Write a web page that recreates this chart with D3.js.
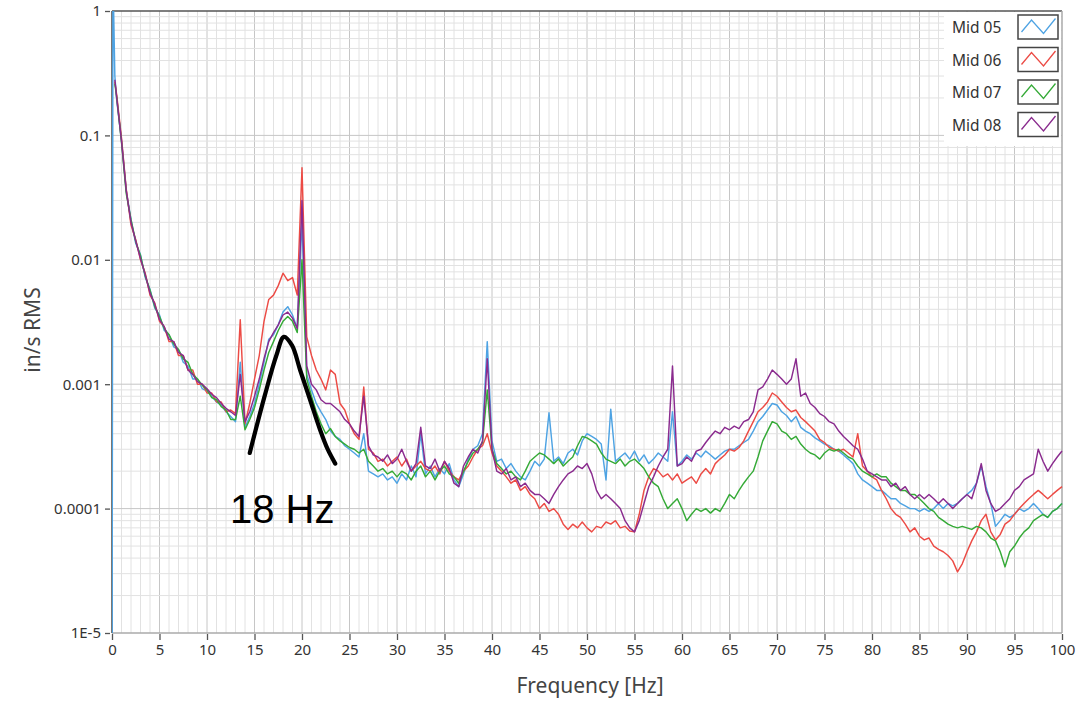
<!DOCTYPE html>
<html><head><meta charset="utf-8">
<script src="https://cdn.jsdelivr.net/npm/d3@7"></script>
<style>body{margin:0;background:#fff}</style>
</head><body>
<svg id="chart" width="1088" height="702"></svg>
<script>
// ---------------- DATA ----------------
const freq = [0,0.1,0.3,
0.5,1,1.5,2,2.5,3,3.5,4,4.5,5,
5.5,6,6.5,7,7.5,8,8.5,9,9.5,10,
10.5,11,11.5,12,12.5,13,13.5,14,14.5,15,
15.5,16,16.5,17,17.5,18,18.5,19,19.5,20,
20.5,21,21.5,22,22.5,23,23.5,24,24.5,25,
25.5,26,26.5,27,27.5,28,28.5,29,29.5,30,
30.5,31,31.5,32,32.5,33,33.5,34,34.5,35,
35.5,36,36.5,37,37.5,38,38.5,39,39.5,40,
40.5,41,41.5,42,42.5,43,43.5,44,44.5,45,
45.5,46,46.5,47,47.5,48,48.5,49,49.5,50,
50.5,51,51.5,52,52.5,53,53.5,54,54.5,55,
55.5,56,56.5,57,57.5,58,58.5,59,59.5,60,
60.5,61,61.5,62,62.5,63,63.5,64,64.5,65,
65.5,66,66.5,67,67.5,68,68.5,69,69.5,70,
70.5,71,71.5,72,72.5,73,73.5,74,74.5,75,
75.5,76,76.5,77,77.5,78,78.5,79,79.5,80,
80.5,81,81.5,82,82.5,83,83.5,84,84.5,85,
85.5,86,86.5,87,87.5,88,88.5,89,89.5,90,
90.5,91,91.5,92,92.5,93,93.5,94,94.5,95,
95.5,96,96.5,97,97.5,98,98.5,99,99.5,100];

const mid05 = [1e-6,2,0.3,
0.19,0.092,0.036,0.021,0.0135,0.011,0.0072,0.0058,0.0041,0.0036,
0.0027,0.0025,0.002,0.0019,0.0015,0.0014,0.0011,0.0011,0.00092,0.00088,
0.0008,0.00072,0.00068,0.0006,0.00055,0.0005,0.0015,0.00045,0.00055,0.0007,
0.001,0.0015,0.0023,0.0025,0.003,0.0038,0.0042,0.0036,0.0028,0.021,
0.0012,0.0009,0.0007,0.0006,0.00052,0.00042,0.00038,0.00036,0.00032,0.0003,
0.00028,0.00026,0.0004,0.0002,0.00019,0.00018,0.00019,0.00017,0.00018,0.00016,
0.00019,0.00017,0.00022,0.00018,0.0004,0.00019,0.00022,0.00018,0.00021,0.00019,
0.00023,0.00017,0.00015,0.00019,0.00025,0.0003,0.00032,0.0004,0.0022,0.00035,
0.00024,0.00025,0.00021,0.00023,0.0002,0.00018,0.00017,0.0002,0.00024,0.00022,
0.00025,0.00059,0.00024,0.00026,0.00023,0.00028,0.0003,0.00027,0.00035,0.0004,
0.00038,0.00036,0.00033,0.00017,0.00063,0.00024,0.00026,0.00028,0.00025,0.00029,
0.00024,0.00027,0.00023,0.00025,0.00028,0.00026,0.00024,0.0006,0.00022,0.00024,
0.00027,0.00025,0.00028,0.00026,0.00029,0.00027,0.00025,0.00027,0.00029,0.0003,
0.0003,0.00032,0.00034,0.00036,0.00042,0.0005,0.00055,0.00062,0.0007,0.00068,
0.0006,0.00056,0.0005,0.00055,0.00045,0.00042,0.0004,0.00037,0.00035,0.00033,
0.00032,0.0003,0.00029,0.00027,0.00025,0.00023,0.00019,0.00017,0.00016,0.00015,
0.00014,0.00014,0.00013,0.00012,0.00012,0.00011,0.000105,0.0001,0.0001,0.000095,
0.0001,0.000095,0.0001,0.00011,0.0001,0.00011,0.000105,0.00011,0.00012,0.00013,
0.00014,0.00016,0.00022,0.00015,0.00011,0.000072,0.00008,0.00009,0.000085,0.00009,
0.0001,0.000095,0.0001,0.00011,0.0001,0.00009,0.000085,0.000095,0.0001,0.00011];

const mid06 = [null,null,0.27,
0.21,0.095,0.037,0.019,0.0145,0.01,0.0078,0.0052,0.0045,0.0032,
0.0029,0.0022,0.0022,0.0017,0.0017,0.0013,0.0013,0.001,0.001,0.00085,
0.00085,0.00072,0.00072,0.0006,0.00062,0.00058,0.0033,0.00048,0.0007,0.0011,
0.0017,0.0032,0.0048,0.0052,0.0062,0.0078,0.0068,0.0072,0.0052,0.055,
0.0024,0.0017,0.0013,0.0011,0.0009,0.0013,0.0012,0.0007,0.00062,0.00048,
0.0004,0.00036,0.00095,0.0003,0.00028,0.00024,0.00025,0.00022,0.00024,0.00026,
0.00022,0.00025,0.0002,0.00022,0.00024,0.00021,0.0002,0.00022,0.00019,0.00024,
0.0002,0.00018,0.00017,0.0002,0.00022,0.00026,0.0003,0.00032,0.0004,0.00028,
0.00022,0.0002,0.00018,0.00016,0.00017,0.00014,0.00015,0.00013,0.00012,0.0001,
0.00011,0.000095,0.0001,0.00009,0.000075,0.000068,0.000075,0.00007,0.000078,0.00007,
0.000065,0.000072,0.00007,0.000078,0.000075,0.00008,0.00007,0.000072,0.000066,0.000065,
0.00009,0.00014,0.00018,0.00021,0.0002,0.00018,0.00019,0.00017,0.00019,0.00016,
0.00017,0.00018,0.00016,0.00019,0.00021,0.00019,0.00023,0.00025,0.00027,0.0003,
0.00029,0.00031,0.00035,0.00042,0.0005,0.0006,0.00065,0.00072,0.00085,0.0008,
0.00072,0.00065,0.0006,0.00062,0.00054,0.0005,0.00046,0.00042,0.00036,0.00034,
0.00031,0.0003,0.00029,0.0003,0.00028,0.00026,0.0004,0.00022,0.0002,0.00018,
0.00017,0.00014,0.00012,0.0001,0.00009,0.000085,0.000075,0.000065,0.00007,0.00006,
0.000056,0.000058,0.00005,0.000047,0.000045,0.000042,0.000038,0.000031,0.000036,0.000045,
0.000055,0.000065,0.00008,0.00009,0.000065,0.000056,0.000062,0.000075,0.00008,0.00009,
0.0001,0.00011,0.00012,0.00013,0.00014,0.00013,0.00012,0.00013,0.00014,0.00015];

const mid07 = [null,null,0.26,
0.2,0.088,0.034,0.021,0.014,0.0108,0.0074,0.0057,0.0042,0.0035,
0.0028,0.0025,0.0021,0.0019,0.0016,0.0015,0.0012,0.0011,0.00098,0.0009,
0.00078,0.00075,0.00066,0.00062,0.00052,0.00052,0.0008,0.00043,0.00052,0.00065,
0.0009,0.0013,0.0018,0.0022,0.0027,0.0032,0.0035,0.0032,0.0026,0.01,
0.0011,0.0008,0.0006,0.00048,0.0004,0.00044,0.00038,0.00035,0.00033,0.00031,
0.0003,0.00028,0.0003,0.00024,0.00022,0.0002,0.00021,0.00019,0.0002,0.00018,
0.0002,0.00019,0.00017,0.0002,0.00022,0.00018,0.0002,0.00017,0.0002,0.00022,
0.00019,0.00018,0.00016,0.0002,0.00024,0.00028,0.0003,0.00034,0.0009,0.0003,
0.00023,0.00021,0.00019,0.0002,0.00018,0.00017,0.0002,0.00024,0.00026,0.00028,
0.00027,0.00025,0.00023,0.00025,0.00022,0.00024,0.00026,0.00032,0.00038,0.00037,
0.00035,0.00033,0.00028,0.00025,0.00024,0.00023,0.00025,0.00022,0.00024,0.00025,
0.00023,0.00021,0.00018,0.00016,0.00015,0.00012,0.0001,0.00011,0.00012,0.0001,
0.00008,0.00009,0.0001,0.000095,0.0001,0.000092,0.0001,0.000095,0.00011,0.00013,
0.00012,0.00014,0.00016,0.00018,0.0002,0.00026,0.00035,0.00042,0.0005,0.00048,
0.00042,0.0004,0.00036,0.00038,0.00033,0.0003,0.00028,0.00027,0.00025,0.00028,
0.0003,0.00029,0.0003,0.00028,0.00026,0.00025,0.00022,0.0002,0.00019,0.00018,
0.00019,0.00018,0.00018,0.00016,0.00015,0.00014,0.00014,0.00013,0.00013,0.00012,
0.00011,0.0001,0.000095,0.000085,0.00008,0.000075,0.000072,0.00007,0.000072,0.00007,
0.000068,0.000072,0.00007,0.000065,0.000058,0.000055,0.000045,0.000034,0.000045,0.00005,
0.000058,0.000065,0.00007,0.00008,0.000085,0.00009,0.000085,0.000095,0.0001,0.00011];

const mid08 = [null,null,0.28,
0.2,0.09,0.036,0.02,0.0142,0.0102,0.0076,0.0054,0.0044,0.0033,
0.0029,0.0023,0.0022,0.0018,0.0017,0.0013,0.0012,0.00105,0.001,0.00092,
0.00083,0.00078,0.0007,0.00064,0.0006,0.00056,0.0012,0.0005,0.0006,0.0008,
0.0011,0.0016,0.0022,0.0026,0.003,0.0036,0.0038,0.0034,0.0028,0.03,
0.0014,0.001,0.0009,0.00075,0.0007,0.0007,0.00065,0.0006,0.00052,0.00048,
0.00042,0.00038,0.0008,0.00032,0.00027,0.00026,0.00024,0.00027,0.00023,0.00025,
0.0003,0.00024,0.0002,0.00023,0.00045,0.00022,0.00021,0.00025,0.0002,0.00024,
0.00021,0.00016,0.00015,0.00022,0.00026,0.0003,0.00028,0.00035,0.0016,0.0003,
0.0002,0.00019,0.00021,0.00017,0.00018,0.00015,0.00016,0.00014,0.00013,0.00013,
0.00012,0.00011,0.00013,0.00015,0.00017,0.00019,0.0002,0.00022,0.00021,0.00023,
0.00019,0.00014,0.00012,0.00013,0.00012,0.00011,0.0001,0.00008,0.00007,0.000065,
0.00008,0.00011,0.00015,0.00018,0.00022,0.00026,0.0003,0.0014,0.00022,0.00023,
0.00026,0.00024,0.00029,0.0003,0.00034,0.00038,0.00042,0.0004,0.00045,0.00043,
0.00046,0.00044,0.0005,0.00052,0.0006,0.0009,0.00095,0.0011,0.0013,0.0012,
0.0011,0.001,0.0011,0.0016,0.0008,0.00085,0.0007,0.00065,0.00058,0.00055,
0.0005,0.00048,0.00042,0.00038,0.00035,0.00032,0.0003,0.00025,0.0002,0.00019,
0.00018,0.00017,0.00017,0.00015,0.00016,0.00014,0.00015,0.00013,0.00012,0.00013,
0.00012,0.00013,0.00012,0.00011,0.00012,0.00011,0.0001,0.00011,0.00012,0.00013,
0.00012,0.00016,0.00023,0.00014,0.00011,0.000095,0.0001,0.00011,0.00012,0.00014,
0.00015,0.00017,0.00018,0.00019,0.0003,0.00024,0.0002,0.00023,0.00026,0.00029];

const seriesNames  = ["Mid 05","Mid 06","Mid 07","Mid 08"];
const seriesValues = [mid05, mid06, mid07, mid08];
const seriesColors = ["#4ea3e3","#ec4b45","#35aa37","#8a2b8e"];

const xTickValues = [0,5,10,15,20,25,30,35,40,45,50,55,60,65,70,75,80,85,90,95,100];
const yTickValues = [1,0.1,0.01,0.001,0.0001,0.00001];
const yTickLabels = ["1","0.1","0.01","0.001","0.0001","1E-5"];

// hand-drawn "18 Hz" resonance mark (frequency, amplitude)
const markFreq  = [14.5, 16.1, 17.3, 18.1, 18.95, 19.8, 20.85, 21.9, 22.7, 23.5];
const markValue = [0.00028, 0.00082, 0.0017, 0.0024, 0.00205, 0.0013, 0.00075, 0.00043, 0.0003, 0.00023];
const markLabel = "18 Hz";

// ---------------- DRAW ----------------
const svg = d3.select("#chart");
svg.append("rect").attr("width",1088).attr("height",702).attr("fill","#fff");

const L = 112, R = 1062, T = 11, B = 633;
const x = d3.scaleLinear().domain([0,100]).range([L,R]);
const y = d3.scaleLog().domain([1e-5,1]).range([B,T]);

const grid = svg.append("g");
d3.range(1,100).forEach(f=>{
  grid.append("line").attr("x1",x(f)).attr("x2",x(f)).attr("y1",T).attr("y2",B)
    .attr("stroke", f%5===0 ? "#c6c6c6" : "#e2e2e2").attr("stroke-width",1);
});
[-5,-4,-3,-2,-1].forEach(e=>{
  for(let k=1;k<=9;k++){
    const v = k*Math.pow(10,e);
    if(k===1 && e===-5) continue;
    grid.append("line").attr("x1",L).attr("x2",R).attr("y1",y(v)).attr("y2",y(v))
      .attr("stroke", k===1 ? "#c6c6c6" : "#e2e2e2").attr("stroke-width",1);
  }
});

// frame
svg.append("line").attr("x1",L).attr("x2",R).attr("y1",T).attr("y2",T).attr("stroke","#555").attr("stroke-width",1.5);
svg.append("line").attr("x1",R).attr("x2",R).attr("y1",T).attr("y2",B).attr("stroke","#aaa").attr("stroke-width",1.5);
svg.append("line").attr("x1",L).attr("x2",R).attr("y1",B).attr("y2",B).attr("stroke","#aaa").attr("stroke-width",1.5);
svg.append("line").attr("x1",L).attr("x2",L).attr("y1",T).attr("y2",B).attr("stroke","#777").attr("stroke-width",2);

// clip
svg.append("clipPath").attr("id","clip").append("rect").attr("x",L).attr("y",T).attr("width",R-L+1).attr("height",B-T);

const line = d3.line().defined(d=>d.v!=null).x(d=>x(d.f)).y(d=>y(d.v));
const plot = svg.append("g").attr("clip-path","url(#clip)");
seriesValues.forEach((vals,i)=>{
  const data = freq.map((f,j)=>({f:f, v:vals[j]}));
  plot.append("path").datum(data).attr("d",line).attr("fill","none")
    .attr("stroke",seriesColors[i]).attr("stroke-width",1.45).attr("stroke-linejoin","round");
});

// axes
const font = "'Noto Sans', 'Open Sans', sans-serif";
const yAxis = svg.append("g").attr("transform",`translate(${L-2},0)`)
  .call(d3.axisLeft(y).tickValues(yTickValues).tickFormat((d,i)=>yTickLabels[i]).tickSize(5).tickPadding(4));
yAxis.select(".domain").remove();
yAxis.selectAll(".tick line").attr("stroke","#555").attr("stroke-width",1.3);
yAxis.selectAll("text").attr("font-family",font).attr("font-size",15).attr("fill","#333");

const xAxis = svg.append("g").attr("transform",`translate(0,${B+1})`)
  .call(d3.axisBottom(x).tickValues(xTickValues).tickSize(6).tickPadding(4));
xAxis.select(".domain").remove();
xAxis.selectAll(".tick line").attr("stroke","#555").attr("stroke-width",1.3);
xAxis.selectAll("text").attr("font-family",font).attr("font-size",15).attr("fill","#333");

svg.append("text").attr("x",590).attr("y",693).attr("text-anchor","middle")
  .attr("font-family",font).attr("font-size",21).attr("fill","#444").text("Frequency [Hz]");
svg.append("text").attr("transform","translate(40,330) rotate(-90)").attr("text-anchor","middle")
  .attr("font-family",font).attr("font-size",21).attr("fill","#444").text("in/s RMS");

// legend
const lg = svg.append("g");
lg.append("rect").attr("x",944).attr("y",T+1).attr("width",R-944-1).attr("height",134).attr("fill","#fff");
seriesNames.forEach((name,i)=>{
  const yy = 15 + i*32.5;
  lg.append("text").attr("x",952).attr("y",yy+18).attr("font-family",font).attr("font-size",15.5)
    .attr("fill","#333").text(name);
  lg.append("rect").attr("x",1018).attr("y",yy).attr("width",40).attr("height",24)
    .attr("fill","#fff").attr("stroke","#444").attr("stroke-width",1.5);
  const sw = [[3.5,17],[13.5,5],[25.5,18.5],[37.5,3.5]];
  lg.append("path").attr("d",d3.line()(sw.map(p=>[1018+p[0],yy+p[1]]))).attr("fill","none")
    .attr("stroke",seriesColors[i]).attr("stroke-width",1.3);
});

// annotation
const markData = markFreq.map((f,i)=>({f:f, v:markValue[i]}));
svg.append("path").datum(markData)
  .attr("d", d3.line().x(d=>x(d.f)).y(d=>y(d.v)).curve(d3.curveCatmullRom.alpha(0.5)))
  .attr("fill","none").attr("stroke","#000").attr("stroke-width",4.2).attr("stroke-linecap","round");
svg.append("text").attr("x",230).attr("y",523).attr("font-family","'Liberation Sans', Arial, sans-serif")
  .attr("font-size",40).attr("fill","#000").text(markLabel);
</script>
</body></html>
